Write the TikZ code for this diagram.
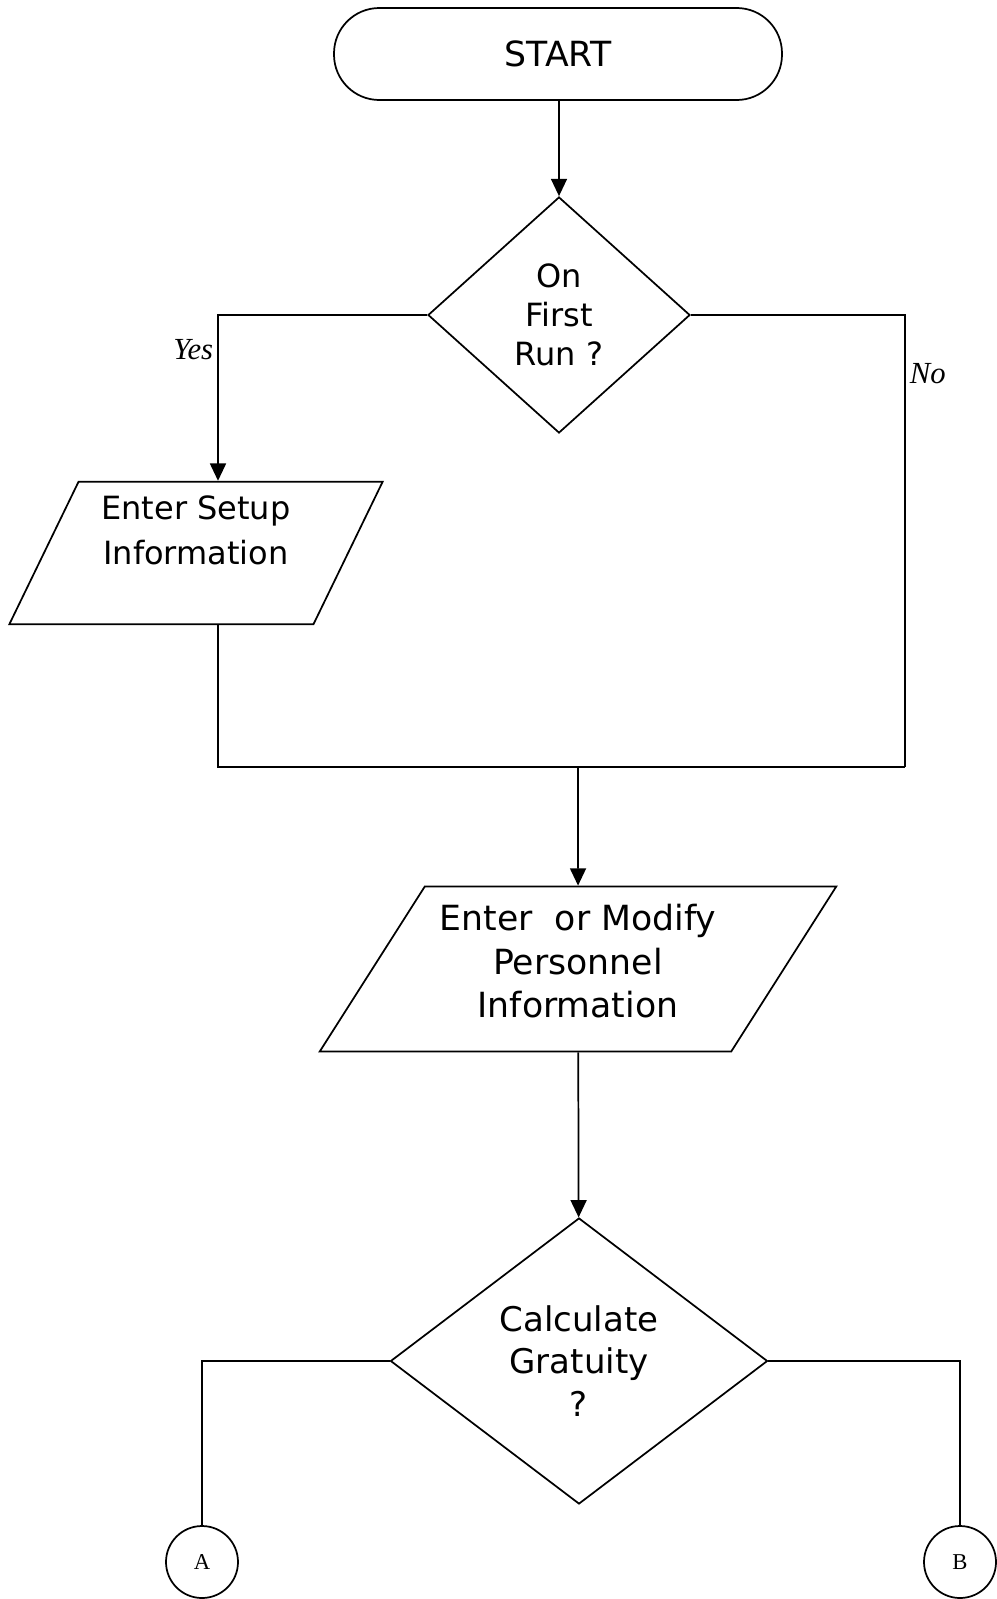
\documentclass[tikz,border=0pt]{standalone}
\usepackage{fontspec}
\setmainfont{DejaVu Sans}
\newfontfamily\capfont{Liberation Serif}
\usetikzlibrary{shapes.geometric,arrows.meta}

\tikzset{every picture/.style={line width=1.3pt}}
\tikzset{
  term/.style={draw, rectangle, rounded corners=34pt, minimum width=336pt, minimum height=69pt, inner sep=0pt, font=\fontsize{26}{31}\selectfont},
  decide/.style={draw, diamond, inner sep=0pt, align=center},
  inout/.style={draw, trapezium, trapezium stretches=true, inner sep=0pt, align=center},
  conn/.style={draw, circle, minimum size=54pt, inner sep=0pt, font=\capfont\fontsize{17}{19}\selectfont},
  flow/.style={-{Triangle[length=13pt,width=12pt]}},
  branch/.style={font=\capfont\itshape\fontsize{23}{25}\selectfont, inner sep=3pt}
}

\begin{document}
\begin{tikzpicture}[x=0.75pt,y=0.75pt,yscale=-1,xscale=1]
\useasboundingbox (0,0) rectangle (996,1599);

%Shape: Terminal
\node[term] (start) at (558,54) {START};
%Shape: Diamond
\node[decide, minimum width=196.5pt, minimum height=177pt, font=\fontsize{24}{29}\selectfont] (firstrun) at (559,315) {On\\First\\Run ?};
%Shape: Parallelogram
\node[inout, trapezium left angle=64, trapezium right angle=116, minimum width=280.5pt, minimum height=107pt, font=\fontsize{24}{34}\selectfont] (setup) at (196,553) {Enter Setup\\Information\\\mbox{}};
%Shape: Parallelogram
\node[inout, trapezium left angle=53.7, trapezium right angle=126.3, minimum width=388.5pt, minimum height=123.75pt, font=\fontsize{26}{32.5}\selectfont] (modify) at (578,969) {Enter~ or Modify\\Personnel\\Information\\[-20.5pt]\mbox{}};
%Shape: Diamond
\node[decide, minimum width=282.75pt, minimum height=214.5pt, font=\fontsize{25.5}{32}\selectfont] (gratuity) at (579,1361) {Calculate\\Gratuity\\?};
%Shape: Circle
\node[conn] (conA) at (202,1562) {A};
\node[conn] (conB) at (960,1562) {B};

\coordinate (yeslane) at (218,315);
\coordinate (nocorner) at (905,767);

%Straight Lines
\draw[flow] (start.south -| firstrun) -- (firstrun);
\draw[flow] (firstrun.west) -- (yeslane) -- node[branch, left, pos=0.21] {Yes} (yeslane |- setup.north);
\draw (firstrun.east) -| node[branch, right, pos=0.565] {No} (nocorner);
\draw (yeslane |- setup.south) |- (nocorner);
\draw[flow] (modify.north |- nocorner) -- (modify);
\draw[flow] (modify) -- (gratuity);
\draw (gratuity.west) -| (conA);
\draw (gratuity.east) -| (conB);

\end{tikzpicture}
\end{document}
